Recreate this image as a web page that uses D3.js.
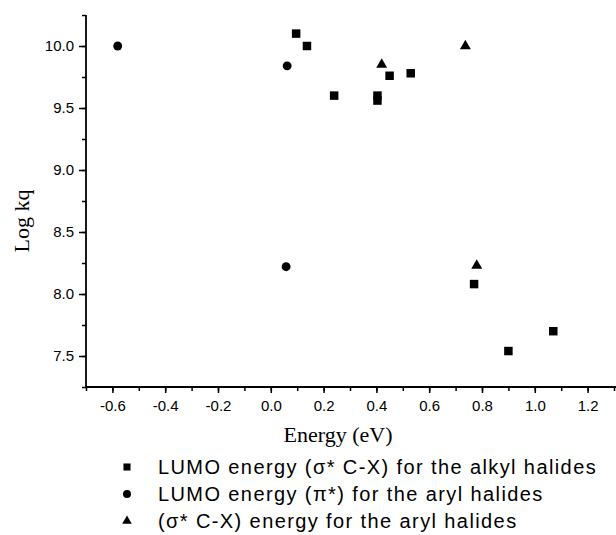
<!DOCTYPE html>
<html>
<head>
<meta charset="utf-8">
<script src="https://cdn.jsdelivr.net/npm/d3@7"></script>
<style>
  body { margin: 0; background: #fff; }
  svg { display: block; }
  .tick-label { font-family: 'Liberation Sans', Arial, sans-serif; font-size: 15px; fill: #000; }
  .axis-title { font-family: 'Liberation Serif', 'Times New Roman', serif; font-size: 22px; fill: #000; }
  .legend-text { font-family: 'Liberation Sans', Arial, sans-serif; font-size: 20px; letter-spacing: 1.4px; fill: #000; }
</style>
</head>
<body>
<svg></svg>
<script>
'use strict'

const width = 616,
  height = 535

// series: energy (eV) vs log kq
const alkylX = [0.096, 0.137, 0.24, 0.404, 0.404, 0.45, 0.53, 0.77, 0.90, 1.07]
const alkylY = [10.10, 10.0, 9.60, 9.60, 9.56, 9.76, 9.78, 8.08, 7.54, 7.70]

const arylPiX = [-0.58, 0.062, 0.058]
const arylPiY = [10.0, 9.84, 8.22]

const arylSigmaX = [0.42, 0.737, 0.78]
const arylSigmaY = [9.85, 10.0, 8.23]

const xTicks = [-0.6, -0.4, -0.2, 0.0, 0.2, 0.4, 0.6, 0.8, 1.0, 1.2]
const yTicks = [7.5, 8.0, 8.5, 9.0, 9.5, 10.0]

const legendLabels = [
  'LUMO energy (\u03c3* C-X) for the alkyl halides',
  'LUMO energy (\u03c0*) for the aryl halides',
  '(\u03c3* C-X) energy for the aryl halides'
]
const legendShapes = [d3.symbolSquare, d3.symbolCircle, d3.symbolTriangle]

const svg = d3.select('svg')
  .attr('width', width)
  .attr('height', height)

const xScale = d3.scaleLinear().domain([-0.7, 1.3]).range([86, 614])
const yScale = d3.scaleLinear().domain([7.25, 10.25]).range([387, 15])

const fmt = d => d.toFixed(1)

// x axis, major + minor ticks
svg.append('g')
  .attr('transform', 'translate(0,387)')
  .call(d3.axisBottom(xScale).tickValues(d3.range(-0.7, 1.31, 0.1)).tickSize(4).tickFormat(''))
  .call(g => g.select('.domain').remove())
  .call(g => g.selectAll('line').attr('stroke-width', 1.5))

svg.append('g')
  .attr('transform', 'translate(0,387)')
  .call(d3.axisBottom(xScale).tickValues(xTicks).tickSize(6).tickPadding(7).tickFormat(fmt))
  .call(g => g.select('.domain').attr('stroke-width', 1.8).attr('d', 'M86,0H616'))
  .call(g => g.selectAll('line').attr('stroke-width', 1.5))
  .call(g => g.selectAll('text').attr('class', 'tick-label'))

// y axis
svg.append('g')
  .attr('transform', 'translate(86,0)')
  .call(d3.axisLeft(yScale).tickValues(d3.range(7.25, 10.26, 0.25)).tickSize(4).tickFormat(''))
  .call(g => g.select('.domain').remove())
  .call(g => g.selectAll('line').attr('stroke-width', 1.5))

svg.append('g')
  .attr('transform', 'translate(86,0)')
  .call(d3.axisLeft(yScale).tickValues(yTicks).tickSize(7).tickPadding(5).tickFormat(fmt))
  .call(g => g.select('.domain').attr('stroke-width', 1.8).attr('d', 'M0,15V387'))
  .call(g => g.selectAll('line').attr('stroke-width', 1.5))
  .call(g => g.selectAll('text').attr('class', 'tick-label'))

// axis titles
svg.append('text')
  .attr('class', 'axis-title')
  .attr('x', 338)
  .attr('y', 442)
  .attr('text-anchor', 'middle')
  .text('Energy (eV)')

svg.append('text')
  .attr('class', 'axis-title')
  .attr('transform', 'translate(29,221) rotate(-90)')
  .attr('text-anchor', 'middle')
  .text('Log kq')

// points
function drawSeries(xs, ys, shape, size) {
  svg.append('g')
    .selectAll('path')
    .data(xs.map((x, i) => ({ x: x, y: ys[i] })))
    .enter()
    .append('path')
    .attr('d', d3.symbol().type(shape).size(size))
    .attr('transform', d => 'translate(' + xScale(d.x) + ',' + yScale(d.y) + ')')
    .attr('fill', '#000')
}

drawSeries(alkylX, alkylY, d3.symbolSquare, 72)
drawSeries(arylPiX, arylPiY, d3.symbolCircle, 62)
drawSeries(arylSigmaX, arylSigmaY, d3.symbolTriangle, 52)

// legend
const legend = svg.append('g')
legendLabels.forEach((label, i) => {
  const y = 467 + i * 27
  legend.append('path')
    .attr('d', d3.symbol().type(legendShapes[i]).size(i === 2 ? 40 : 50))
    .attr('transform', 'translate(127,' + y + ')')
    .attr('fill', '#000')
  legend.append('text')
    .attr('class', 'legend-text')
    .attr('x', 158)
    .attr('y', y + 7)
    .text(label)
})
</script>
</body>
</html>
